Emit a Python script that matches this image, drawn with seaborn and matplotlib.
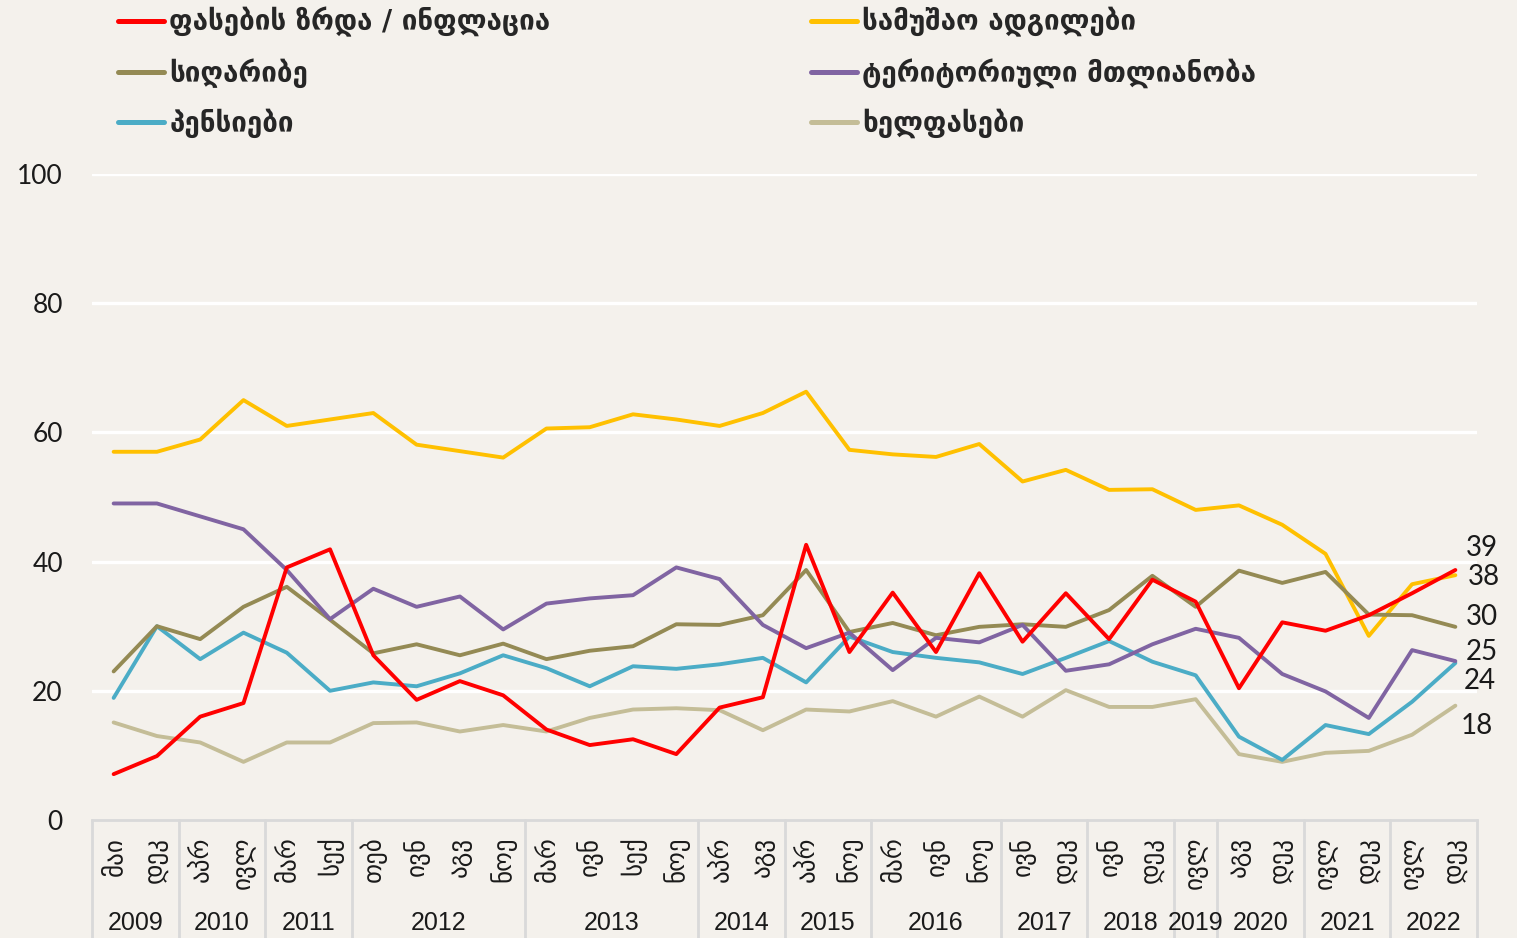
import numpy as np
import pandas as pd
import matplotlib
matplotlib.use("Agg")
import matplotlib.pyplot as plt
from matplotlib.lines import Line2D
from matplotlib.font_manager import FontProperties
import seaborn as sns

# ---------------- data ----------------
months = ["მაი", "დეკ", "აპრ", "ივლ", "მარ", "სექ", "თებ", "ივნ", "აგვ", "ნოე",
          "მარ", "ივნ", "სექ", "ნოე", "აპრ", "აგვ", "აპრ", "ნოე", "მარ", "ივნ",
          "ნოე", "ივნ", "დეკ", "ივნ", "დეკ", "ივლ", "აგვ", "დეკ", "ივლ", "დეკ",
          "ივლ", "დეკ"]
years = ["2009", "2010", "2011", "2012", "2013", "2014", "2015", "2016",
         "2017", "2018", "2019", "2020", "2021", "2022"]
year_counts = [2, 2, 2, 4, 4, 2, 2, 3, 2, 2, 1, 2, 2, 2]

inflation = [7.1, 9.9, 16.0, 18.1, 39.1, 41.9, 25.5, 18.6, 21.5, 19.3, 14.0, 11.6,
             12.5, 10.2, 17.4, 19.0, 42.6, 26.0, 35.2, 26.0, 38.2, 27.6, 35.1, 28.0,
             37.2, 33.8, 20.4, 30.6, 29.3, 31.7, 35.1, 38.7]
jobs = [57.0, 57.0, 58.9, 65.0, 61.0, 62.0, 63.0, 58.1, 57.1, 56.1, 60.6, 60.8,
        62.8, 62.0, 61.0, 63.0, 66.3, 57.3, 56.6, 56.2, 58.2, 52.4, 54.2, 51.1,
        51.2, 48.0, 48.7, 45.7, 41.2, 28.5, 36.5, 37.9]
poverty = [23.0, 30.0, 28.0, 33.0, 36.1, 31.0, 25.8, 27.2, 25.5, 27.3, 24.9, 26.2,
           26.9, 30.3, 30.2, 31.7, 38.7, 29.1, 30.5, 28.6, 29.9, 30.3, 29.9, 32.5,
           37.8, 33.0, 38.6, 36.7, 38.4, 31.8, 31.7, 29.9]
territory = [49.0, 49.0, 47.0, 45.0, 38.7, 31.1, 35.8, 33.0, 34.6, 29.5, 33.5, 34.3,
             34.8, 39.1, 37.3, 30.2, 26.6, 29.0, 23.2, 28.2, 27.5, 30.2, 23.1, 24.1,
             27.2, 29.6, 28.2, 22.6, 19.9, 15.8, 26.3, 24.6]
pensions = [18.9, 30.0, 24.9, 29.0, 25.9, 20.0, 21.3, 20.7, 22.7, 25.5, 23.5, 20.7,
            23.8, 23.4, 24.1, 25.1, 21.3, 28.4, 26.0, 25.1, 24.4, 22.6, 25.1, 27.7,
            24.5, 22.4, 12.9, 9.3, 14.7, 13.3, 18.3, 24.3]
wages = [15.1, 13.0, 12.0, 9.0, 12.0, 12.0, 15.0, 15.1, 13.7, 14.7, 13.7, 15.8,
         17.1, 17.3, 17.0, 13.9, 17.1, 16.8, 18.4, 16.0, 19.1, 16.0, 20.1, 17.5,
         17.5, 18.7, 10.2, 9.0, 10.4, 10.7, 13.2, 17.7]

series_names = ["ფასების ზრდა / ინფლაცია", "სიღარიბე", "პენსიები",
                "სამუშაო ადგილები", "ტერიტორიული მთლიანობა", "ხელფასები"]
series_values = [inflation, poverty, pensions, jobs, territory, wages]
series_colors = ["#FF0000", "#948A54", "#4BACC6", "#FFC000", "#8064A2", "#C4BD97"]

# end-label offsets (pixels) relative to last point
label_offsets = {"ფასების ზრდა / ინფლაცია": (10, 22), "სამუშაო ადგილები": (12, -2),
                 "სიღარიბე": (10, 10), "ტერიტორიული მთლიანობა": (10, 9),
                 "პენსიები": (8, -18), "ხელფასები": (5, -20)}

# --------------- frame ----------------
x_idx = np.arange(len(months))
df = pd.concat([pd.DataFrame({"x": x_idx, "value": v, "series": n})
                for n, v in zip(series_names, series_values)], ignore_index=True)

sns.set_theme(style="white")
BG = "#F4F1EC"
plt.rcParams["font.family"] = ["DejaVu Sans"]

fig = plt.figure(figsize=(15.17, 9.38), dpi=100, facecolor=BG)
ax = fig.add_axes([92 / 1517, 118 / 938, 1385 / 1517, 646 / 938])
ax.set_facecolor(BG)

palette = dict(zip(series_names, series_colors))
draw_order = ["სამუშაო ადგილები", "ხელფასები", "პენსიები", "სიღარიბე",
              "ტერიტორიული მთლიანობა", "ფასების ზრდა / ინფლაცია"]
sns.lineplot(data=df, x="x", y="value", hue="series", hue_order=draw_order,
             palette=palette, linewidth=2.8, legend=False, ax=ax, zorder=3)

ax.set_xlim(-0.5, len(months) - 0.5)
ax.set_ylim(0, 100)
ax.set_yticks([0, 20, 40, 60, 80, 100])
ax.set_yticklabels(["0", "20", "40", "60", "80", "100"],
                   fontfamily=["Lato", "DejaVu Sans"], fontsize=19, color="#1a1a1a")
ax.tick_params(axis="y", length=0, pad=21)
for yv in [20, 40, 60, 80, 100]:
    ax.axhline(yv, color="white", lw=2.4, zorder=1)
ax.grid(False)

ax.set_xticks(x_idx)
ax.set_xticklabels(months, rotation=90, fontsize=18, fontfamily=["DejaVu Sans"],
                   color="#1a1a1a")
ax.tick_params(axis="x", length=0, pad=12)
ax.set_xlabel("")
ax.set_ylabel("")

for s in ["top", "right", "left"]:
    ax.spines[s].set_visible(False)
ax.spines["bottom"].set_color("#D9D9D9")
ax.spines["bottom"].set_linewidth(2)

# table-like separators for year groups
trans = ax.get_xaxis_transform()
bounds = np.concatenate([[-0.5], -0.5 + np.cumsum(year_counts)])
for b in bounds:
    ax.plot([b, b], [0, -0.2], color="#D9D9D9", lw=2, transform=trans, clip_on=False)
for i, yr in enumerate(years):
    cx = (bounds[i] + bounds[i + 1]) / 2
    ax.text(cx, -0.16, yr, transform=trans, ha="center", va="center",
            fontsize=18, fontfamily=["Liberation Sans", "DejaVu Sans"], color="#1a1a1a")

# end labels
for n, v in zip(series_names, series_values):
    dx, dy = label_offsets[n]
    ax.annotate(f"{round(v[-1]):d}", xy=(x_idx[-1], v[-1]), xytext=(dx, dy),
                textcoords="offset pixels", ha="left", va="center",
                fontsize=20, fontfamily=["Lato", "DejaVu Sans"], color="#1a1a1a",
                annotation_clip=False)

# legends (two columns)
lp = FontProperties(family="DejaVu Sans", weight="bold", size=20)
handles = [Line2D([], [], color=c, lw=3.6) for c in series_colors]
common = dict(loc="upper left", frameon=False, prop=lp, handlelength=1.65,
              handletextpad=0.2, labelspacing=0.75, borderpad=0, borderaxespad=0)
leg1 = fig.legend(handles[:3], series_names[:3],
                  bbox_to_anchor=(118 / 1517, 1 - 7 / 938), **common)
leg2 = fig.legend(handles[3:], series_names[3:],
                  bbox_to_anchor=(811 / 1517, 1 - 7 / 938), **common)

fig.savefig("out.png", dpi=100, facecolor=BG)
